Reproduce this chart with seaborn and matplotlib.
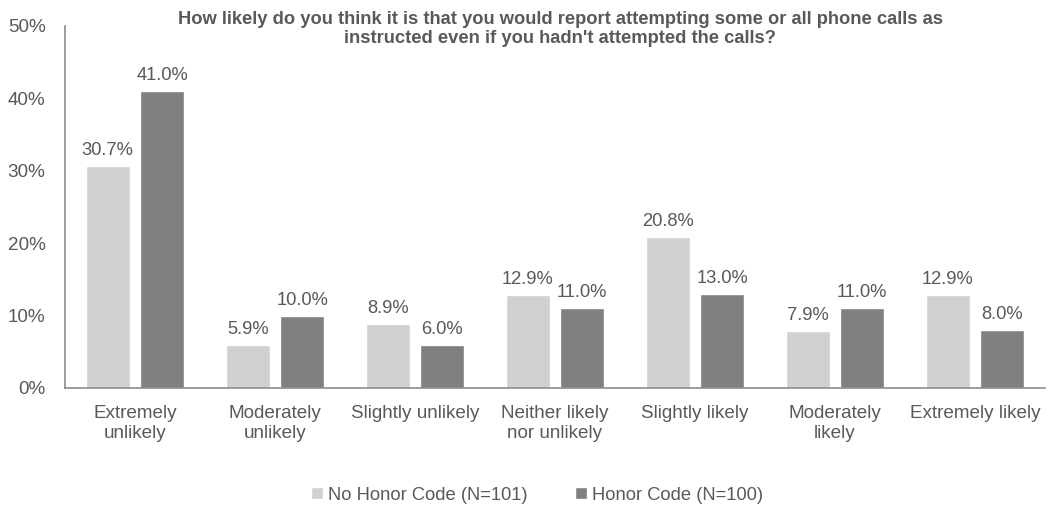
import matplotlib
matplotlib.use("Agg")
import matplotlib.pyplot as plt
import seaborn as sns
import pandas as pd
from matplotlib.ticker import PercentFormatter

categories = [
    "Extremely\nunlikely",
    "Moderately\nunlikely",
    "Slightly unlikely",
    "Neither likely\nnor unlikely",
    "Slightly likely",
    "Moderately\nlikely",
    "Extremely likely",
]
no_honor = [30.7, 5.9, 8.9, 12.9, 20.8, 7.9, 12.9]
honor = [41.0, 10.0, 6.0, 11.0, 13.0, 11.0, 8.0]
series_names = ["No Honor Code (N=101)", "Honor Code (N=100)"]
colors = ["#D0D0D0", "#808080"]

df = pd.DataFrame({
    "category": categories * 2,
    "value": no_honor + honor,
    "group": [series_names[0]] * len(categories) + [series_names[1]] * len(categories),
})

sns.set_theme(style="white")
plt.rcParams["font.family"] = ["Liberation Sans", "DejaVu Sans"]
text_color = "#595959"

fig = plt.figure(figsize=(10.49, 5.08), dpi=100)
ax = fig.add_axes([65 / 1049, 120 / 508, 980 / 1049, 362 / 508])

sns.barplot(
    data=df, x="category", y="value", hue="group",
    order=categories, hue_order=series_names,
    palette=colors, width=0.78, gap=0.2,
    saturation=1, errorbar=None, ax=ax, legend=True,
)

for container in ax.containers:
    ax.bar_label(container, fmt="%.1f%%", padding=5, fontsize=13.2, color=text_color)

ax.set_ylim(0, 50)
ax.set_xlim(-0.5, len(categories) - 0.5)
ax.yaxis.set_major_formatter(PercentFormatter(decimals=0))
ax.set_yticks(range(0, 51, 10))
ax.set_xlabel("")
ax.set_ylabel("")
ax.tick_params(axis="both", length=0, labelsize=13.6, colors=text_color)
ax.tick_params(axis="y", pad=14)
ax.tick_params(axis="x", pad=12)
for lbl in ax.get_xticklabels():
    lbl.set_linespacing(1.25)

for side in ["top", "right"]:
    ax.spines[side].set_visible(False)
for side in ["left", "bottom"]:
    ax.spines[side].set_color("#8C8C8C")
    ax.spines[side].set_linewidth(1.2)

fig.text(
    0.534, 0.979,
    "How likely do you think it is that you would report attempting some or all phone calls as\n"
    "instructed even if you hadn't attempted the calls?",
    ha="center", va="top", fontsize=13.2, fontweight="bold", color=text_color,
    linespacing=1.2,
)

handles, labels = ax.get_legend_handles_labels()
ax.legend_.remove()
fig.legend(
    handles, labels, loc="center", bbox_to_anchor=(0.512, 0.025),
    ncol=2, frameon=False, fontsize=13.2, labelcolor=text_color,
    handlelength=0.65, handleheight=0.65, handletextpad=0.25, columnspacing=2.6,
)

fig.savefig("out.png", dpi=100, facecolor="white")
